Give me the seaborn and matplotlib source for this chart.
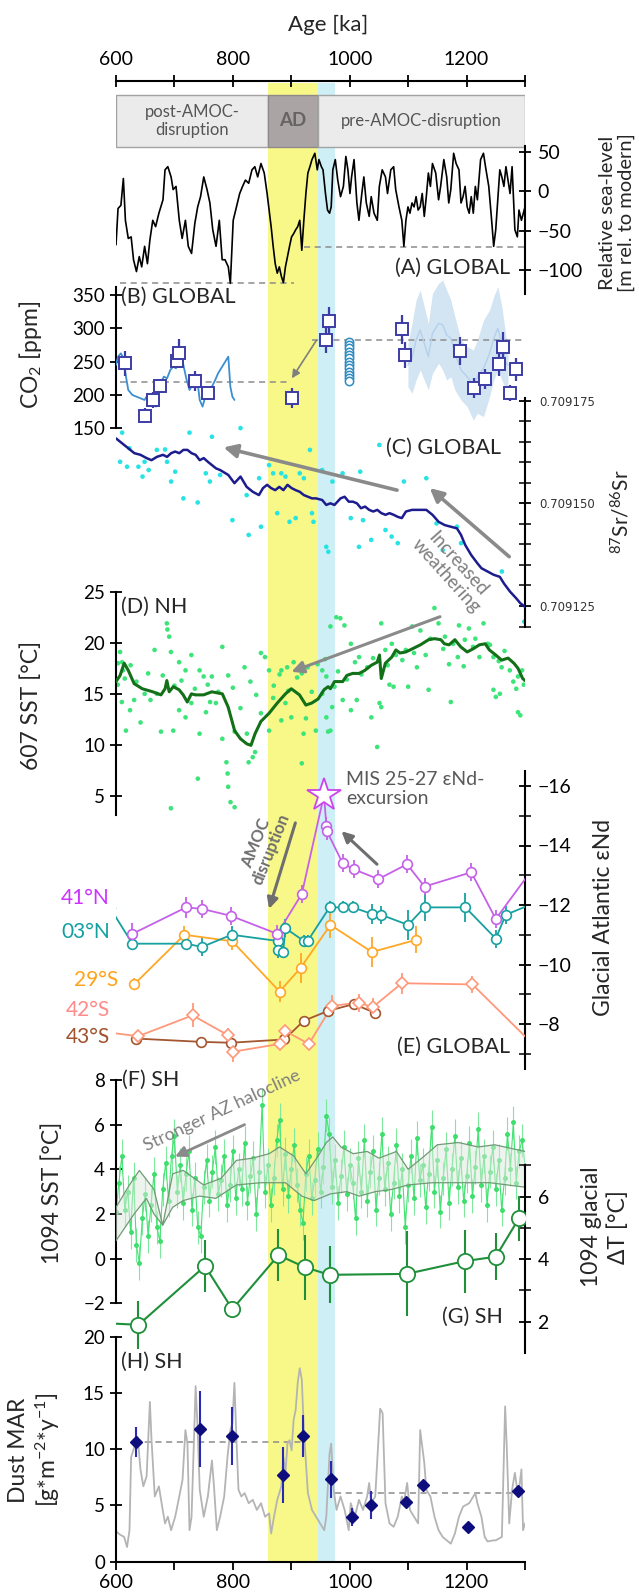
import numpy as np
import matplotlib
matplotlib.use('Agg')
import matplotlib.pyplot as plt
from matplotlib.patches import Rectangle
import seaborn as sns

sns.set_style('ticks')
plt.rcParams['font.family'] = ['Lato', 'DejaVu Sans']
plt.rcParams['mathtext.fontset'] = 'custom'
plt.rcParams['mathtext.rm'] = 'Lato'
plt.rcParams['mathtext.it'] = 'Lato:italic'
plt.rcParams['mathtext.bf'] = 'Lato:bold'

# ---------------- data ----------------
# intervals [ka]
ad_span = (860, 946)
mis_span = (946, 974)

# (A) sea level [m]
sl_ka = [600, 603.5, 608.4, 612.6, 616.1, 621, 625.9, 630, 635, 639.8,
         644, 649, 653.8, 658, 662.9, 667.8, 673.4, 680.4, 683.9, 688.7,
         694.3, 697.8, 702.7, 708.3, 713.2, 718.8, 723.7, 729.3, 734.9, 739.8,
         744.7, 750.2, 755.8, 760.7, 765.6, 771.2, 776.8, 781.7, 786.6, 792.2,
         795.7, 800.6, 806.2, 811.7, 816.6, 821.5, 827.1, 832.7, 837.6, 842.5,
         848.1, 853.7, 858.6, 862.1, 865.5, 869, 872.5, 876, 879.5, 883,
         886.5, 890, 893.5, 897, 900.5, 904, 907.5, 911, 914.5, 918,
         921.5, 925, 928.4, 931.9, 935.4, 940.3, 944.5, 947.3, 951.5, 954.3,
         958.5, 962, 965.5, 968.3, 971.1, 975.3, 979.5, 984.3, 989.2, 993.4,
         996.9, 1000.4, 1003.2, 1007.4, 1012.3, 1015.8, 1020.7, 1024.2, 1028.4, 1033.3,
         1036.8, 1041.6, 1047.2, 1050.7, 1055.6, 1061.2, 1064.7, 1070.3, 1075.2, 1078.7,
         1084.3, 1089.2, 1092.7, 1096.2, 1099.7, 1103.1, 1106.6, 1110.1, 1113.6, 1117.1,
         1120.6, 1124.1, 1127.6, 1131.1, 1134.6, 1138.1, 1141.6, 1147.2, 1152.1, 1155.6,
         1161.1, 1166, 1169.5, 1173, 1177.9, 1182.1, 1187, 1190.5, 1194, 1197.5,
         1201, 1204.5, 1208, 1211.5, 1215, 1218.5, 1224, 1228.9, 1232.4, 1238,
         1242.9, 1246.4, 1249.9, 1253.4, 1256.9, 1260.4, 1263.9, 1267.4, 1270.9, 1274.4,
         1277.9, 1282.7, 1286.9, 1289.7, 1293.9, 1300]
sl_m = [-68, -22, -18, 16, -37, -60, -58, -87, -102, -83,
        -96, -70, -92, -62, -37, -45, -28, -11, 27, 31,
        18, 2, 6, -37, -60, -37, -70, -79, -41, -20,
        -7, 18, 2, -15, -49, -70, -37, -87, -87, -96,
        -117, -37, -20, -3, 6, 14, 10, 27, 31, 18,
        35, 23, -3, -24, -45, -70, -92, -104, -96, -108,
        -116, -96, -83, -70, -58, -54, -49, -45, -37, -75,
        -37, -3, 23, 31, 40, 48, 27, 40, 31, 27,
        -3, -24, -28, -20, 27, 40, 14, -7, 6, 44,
        27, -3, 18, 40, -15, -37, -3, 18, -15, -32,
        -7, -28, -37, 6, 27, 18, -3, 27, 31, 2,
        -20, -37, -70, -37, -20, -28, -15, -20, -7, -24,
        -20, -3, -32, -7, 23, 6, 35, 23, -11, 6,
        40, 18, -15, 2, 48, 35, 27, -15, -7, 6,
        -20, -28, -7, -28, 6, -11, 40, 48, 31, 6,
        -37, -70, -49, -11, 27, 18, 6, 31, 14, -3,
        31, -49, -58, -24, -37, -20]
sl_post_level, sl_post_span = -116, (607, 904)
sl_pre_level, sl_pre_span = -71, (921, 1300)

# (B) CO2 [ppm]
co2_ice_ka = [600, 603.5, 608.4, 612.6, 616.1, 621, 628, 635, 641.9, 648.9,
              653.8, 659.4, 665, 668.5, 672, 676.9, 681.8, 687.4, 692.9, 697.8,
              702.7, 708.3, 711.8, 715.3, 720.9, 725.8, 729.3, 734.9, 739.8, 743.3,
              748.1, 753.7, 758.6, 764.2, 769.8, 774.7, 781.7, 788.7, 792.2, 795.7,
              799.2, 802.7]
co2_ice = [245, 257.5, 262.5, 255, 232.5, 207.5, 200, 197.5, 195, 192.5,
           200, 190, 195, 182.5, 207.5, 217.5, 227.5, 225, 237.5, 242.5,
           240, 252.5, 257.5, 245, 222.5, 207.5, 212.5, 222.5, 217.5, 192.5,
           182.5, 200, 202.5, 212.5, 222.5, 232.5, 242.5, 252.5, 257.5, 212.5,
           197.5, 192.5]
co2_boron_ka = [616, 650.3, 664, 675, 705, 707, 735, 757, 902, 960,
                964, 1089, 1095, 1188, 1213, 1232, 1255, 1262, 1274, 1285]
co2_boron = [247.5, 169, 192.5, 213.5, 251.5, 262.5, 221.5, 202.5, 195, 282.5,
             311.5, 298.5, 260, 266.5, 211, 224, 246, 272.5, 203.5, 238.5]
co2_boron_err = [19, 11, 12.5, 11, 9, 22, 15, 10, 15, 19,
                 21, 22, 20, 21, 15, 15, 17, 22, 12, 17]
co2_stack_ka = 998
co2_stack = [280, 275, 270, 265, 260, 255, 250, 245, 240, 235, 230, 225, 221]
blue_ice_ka = [1099.6, 1106.6, 1113.6, 1120.6, 1127.6, 1134.6, 1141.6, 1152.1, 1159.1, 1166,
               1173, 1180, 1190.5, 1201, 1211.5, 1218.5, 1229, 1239.4, 1246.4, 1253.4,
               1260.4, 1267.4, 1270.9]
blue_ice_hi = [277.5, 307.5, 342.5, 357.5, 332.5, 307.5, 352.5, 367.5, 372.5, 357.5,
               342.5, 317.5, 282.5, 272.5, 267.5, 282.5, 312.5, 327.5, 347.5, 362.5,
               332.5, 287.5, 272.5]
blue_ice_lo = [212.5, 202.5, 222.5, 237.5, 222.5, 207.5, 232.5, 247.5, 237.5, 222.5,
               227.5, 207.5, 192.5, 182.5, 162.5, 172.5, 167.5, 197.5, 222.5, 237.5,
               222.5, 207.5, 217.5]
co2_post_level, co2_post_span = 220, (607, 900)
co2_pre_level, co2_pre_span = 282, (935, 1295)

# (C) 87Sr/86Sr
sr_ka = [600, 610.5, 621, 631.4, 641.9, 652.4, 660.8, 669.9, 680.4, 687.4,
         694.3, 701.3, 708.3, 715.3, 722.3, 729.3, 736.3, 743.3, 750.2, 757.2,
         764.2, 771.2, 778.2, 792.2, 802.7, 813.1, 823.6, 834.1, 844.6, 851.6,
         858.6, 865.5, 872.5, 879.5, 886.5, 893.5, 900.5, 907.5, 914.5, 921.5,
         928.4, 935.4, 942.4, 952.9, 959.9, 966.9, 973.9, 984.3, 991.3, 998.3,
         1005.3, 1012.3, 1019.3, 1026.3, 1033.3, 1040.3, 1047.2, 1054.2, 1061.2, 1068.2,
         1075.2, 1082.2, 1089.2, 1096.2, 1106.6, 1117.1, 1131.1, 1141.6, 1152.1, 1162.5,
         1173, 1183.5, 1190.5, 1197.5, 1208, 1218.5, 1225.4, 1235.9, 1246.4, 1256.9,
         1263.9, 1274.4, 1284.8, 1291.8, 1300]
sr_fit = [0.7091658, 0.7091646, 0.7091634, 0.7091622, 0.7091618, 0.7091610, 0.7091605, 0.7091613, 0.7091618, 0.7091613,
          0.7091622, 0.7091626, 0.7091622, 0.7091630, 0.7091630, 0.7091622, 0.7091618, 0.7091605, 0.7091610, 0.7091601,
          0.7091593, 0.7091585, 0.7091581, 0.7091569, 0.7091549, 0.7091565, 0.7091540, 0.7091528, 0.7091520, 0.7091537,
          0.7091545, 0.7091537, 0.7091532, 0.7091540, 0.7091532, 0.7091545, 0.7091537, 0.7091532, 0.7091528, 0.7091520,
          0.7091516, 0.7091512, 0.7091512, 0.7091508, 0.7091496, 0.7091500, 0.7091496, 0.7091512, 0.7091516, 0.7091504,
          0.7091504, 0.7091500, 0.7091488, 0.7091492, 0.7091484, 0.7091480, 0.7091484, 0.7091476, 0.7091472, 0.7091476,
          0.7091472, 0.7091467, 0.7091464, 0.7091480, 0.7091484, 0.7091484, 0.7091484, 0.7091472, 0.7091455, 0.7091447,
          0.7091443, 0.7091439, 0.7091423, 0.7091399, 0.7091374, 0.7091354, 0.7091342, 0.7091334, 0.7091326, 0.7091321,
          0.7091305, 0.7091285, 0.7091269, 0.7091257, 0.7091248]
sr_pts_ka = [610.5, 607, 618.9, 623, 638.4, 645.4, 648.9, 655.9, 669.9, 683.9,
             687.4, 694.3, 701.3, 715.3, 725.8, 739.8, 753.7, 760.7, 764.2, 778.2,
             799.2, 813.1, 823.6, 827.1, 848.1, 845, 862, 869, 876, 883,
             890, 897, 907.5, 914.5, 921.5, 931.9, 935.4, 938, 952.9, 959.9,
             963.4, 970.4, 987.8, 1001.8, 1015.8, 1018, 1022.8, 1036.8, 1050.7, 1061.2,
             1071.7, 1082.2, 1092.7, 1131.1, 1148.6, 1159.1, 1183.5, 1190.5, 1260.4, 1298.8]
sr_pts = [0.7091672, 0.7091601, 0.7091589, 0.7091634, 0.7091589, 0.7091565, 0.7091601, 0.7091581, 0.7091630, 0.7091631,
          0.7091601, 0.7091553, 0.7091577, 0.7091512, 0.7091672, 0.7091502, 0.7091573, 0.7091553, 0.7091662, 0.7091569,
          0.7091459, 0.7091683, 0.7091520, 0.7091423, 0.7091443, 0.7091561, 0.7091593, 0.7091573, 0.7091476, 0.7091573,
          0.7091565, 0.7091455, 0.7091464, 0.7091573, 0.7091561, 0.7091630, 0.7091476, 0.7091455, 0.7091581, 0.7091394,
          0.7091382, 0.7091553, 0.7091573, 0.7091464, 0.7091394, 0.7091577, 0.7091459, 0.7091411, 0.7091642, 0.7091435,
          0.7091419, 0.7091403, 0.7091553, 0.7091561, 0.7091451, 0.7091386, 0.7091443, 0.7091403, 0.7091334, 0.7091212]

# (D) 607 SST [degC]
d_ka = [600, 607, 614, 621, 631, 645, 663, 677, 684, 687,
        691, 698, 708, 715, 722, 729, 736, 750, 764, 782,
        792, 803, 813, 824, 831, 838, 848, 862, 876, 890,
        900, 914, 925, 935, 946, 956, 963, 967, 974, 988,
        995, 1005, 1016, 1026, 1037, 1047, 1051, 1054, 1061, 1072,
        1079, 1086, 1096, 1107, 1121, 1135, 1145, 1156, 1162, 1170,
        1180, 1190, 1201, 1211, 1222, 1232, 1239, 1250, 1260, 1271,
        1281, 1288, 1296, 1300]
d_sst = [16.2, 16.8, 18.0, 17.3, 16.0, 15.5, 15.2, 14.9, 15.5, 16.3,
         15.2, 15.7, 15.4, 14.9, 14.2, 15.0, 14.9, 14.9, 15.2, 15.0,
         13.7, 11.4, 10.6, 10.1, 9.96, 11.1, 12.3, 13.1, 14.1, 15.0,
         15.5, 14.9, 13.9, 14.1, 14.5, 15.4, 15.7, 15.5, 16.2, 16.2,
         16.8, 17.0, 17.0, 17.3, 17.8, 18.1, 18.8, 16.5, 18.0, 18.6,
         19.3, 19.0, 19.1, 19.4, 19.8, 20.3, 20.4, 20.3, 19.9, 19.8,
         20.3, 19.6, 19.1, 19.4, 19.8, 19.9, 19.3, 18.8, 18.3, 18.5,
         18.0, 17.5, 16.5, 16.3]
d_pts_ka = [607, 610.5, 603.5, 612, 666, 687, 688, 691, 694, 708,
            719, 729, 743, 750, 764, 782, 792, 820, 848, 855,
            862, 883, 893, 904, 918, 928, 953, 960, 967, 977,
            984, 991, 1002, 1009, 1016, 1030, 1054, 1061, 1072, 1079,
            1096, 1107, 1121, 1138, 1145, 1152, 1163, 1177, 1187, 1197,
            1204, 1211, 1222, 1229, 1236, 1246, 1260, 1274, 1288, 1295,
            603, 610, 617, 624, 631, 642, 649, 659, 670, 677,
            694, 698, 708, 719, 729, 740, 743, 754, 761, 771,
            782, 789, 791, 792, 796, 803, 803, 813, 824, 827,
            834, 838, 848, 862, 869, 883, 890, 900, 918, 921,
            925, 942, 953, 960, 963, 967, 970, 974, 988, 1002,
            1012, 1037, 1047, 1051, 1054, 1068, 1075, 1100, 1135, 1173,
            1246, 1250, 1257, 1285, 1288, 1292,
            615, 625, 635, 655, 680, 700, 712, 735, 757, 775,
            800, 830, 840, 870, 880, 895, 910, 935, 945, 958,
            980, 995, 1020, 1040, 1065, 1090, 1110, 1115, 1130, 1160,
            1170, 1185, 1195, 1215, 1240, 1255, 1265, 1280, 1298]
d_pts = [19.1, 18.1, 18.0, 17.3, 19.3, 21.9, 21.3, 20.6, 19.1, 18.1,
         17.3, 18.8, 17.3, 16.7, 16.7, 19.6, 16.8, 17.6, 19.0, 18.6,
         17.3, 17.3, 17.6, 18.1, 17.0, 17.6, 17.3, 16.7, 21.6, 22.5,
         22.4, 21.7, 19.9, 18.1, 18.6, 17.6, 21.9, 19.3, 19.9, 18.8,
         19.3, 21.6, 21.2, 20.4, 23.4, 21.9, 20.6, 19.9, 21.7, 20.3,
         21.4, 19.6, 18.6, 21.9, 19.9, 18.6, 17.6, 17.3, 16.7, 17.3,
         15.9, 14.2, 11.4, 13.4, 14.4, 12.2, 15.0, 14.4, 15.0, 11.3,
         3.8, 11.4, 13.4, 12.7, 14.1, 6.7, 11.1, 13.2, 14.2, 14.1,
         10.6, 8.3, 7.2, 5.9, 4.4, 3.9, 11.3, 13.6, 11.1, 8.3,
         8.8, 9.3, 13.1, 11.4, 14.6, 12.4, 14.1, 12.7, 8.2, 11.1,
         12.6, 11.4, 15.0, 12.7, 11.3, 11.4, 13.7, 15.7, 14.4, 13.4,
         14.4, 12.7, 9.8, 14.1, 13.7, 15.9, 15.7, 15.7, 15.4, 14.2,
         15.4, 14.7, 15.0, 15.5, 13.2, 12.9,
         16.5, 17.8, 16.2, 17.0, 16.8, 15.8, 16.3, 15.5, 15.9, 15.2,
         15.6, 16.2, 14.9, 15.8, 16.9, 15.3, 16.6, 15.2, 17.9, 18.4,
         17.2, 16.4, 16.9, 18.5, 17.8, 18.3, 19.0, 17.6, 18.8, 19.4,
         17.9, 18.6, 17.7, 20.4, 19.8, 18.2, 19.2, 16.2, 15.9]

# (E) glacial Atlantic eNd
nd41_ka = [628, 720, 747, 796, 876, 918, 956, 960, 961, 988, 1007, 1049, 1098, 1128, 1208, 1250, 1320]
nd41 = [-11.03, -11.92, -11.87, -11.64, -11.03, -12.37, -15.7, -14.67, -14.48, -13.4, -13.2, -12.87, -13.37, -12.62, -13.1, -11.53, -13.4]
nd41_err = [0.35, 0.35, 0.3, 0.3, 0.3, 0.3, 0, 0.3, 0.3, 0.3, 0.3, 0.3, 0.3, 0.3, 0.3, 0.3, 0]
nd41_star = 6
nd03_ka = [590, 628, 720, 747, 798, 877, 877.5, 886, 890, 921.5, 928, 965.5, 988, 1005, 1038, 1054, 1100, 1128, 1198, 1250, 1267, 1320]
nd03 = [-11.9, -10.7, -10.7, -10.59, -11.0, -10.79, -10.48, -10.42, -11.22, -10.79, -10.79, -11.92, -11.92, -11.92, -11.7, -11.67, -11.33, -11.92, -11.92, -10.87, -11.67, -12.1]
nd03_err = [0, 0, 0, 0.3, 0.3, 0.25, 0.25, 0.2, 0.3, 0.2, 0.2, 0.2, 0.2, 0.2, 0.35, 0.3, 0.5, 0.45, 0.5, 0.3, 0.3, 0]
nd29_ka = [631, 717, 799, 880, 916, 967, 1038, 1114]
nd29 = [-9.33, -11.0, -10.78, -9.09, -9.89, -11.33, -10.42, -10.83]
nd29_err = [0.2, 0.3, 0.3, 0.35, 0.5, 0.45, 0.5, 0.45]
nd42_ka = [585, 638, 731, 792, 801, 880, 890, 930, 970, 1016, 1039, 1089, 1210, 1320]
nd42 = [-7.72, -7.59, -8.29, -7.62, -7.07, -7.33, -7.76, -7.33, -8.61, -8.72, -8.56, -9.37, -9.33, -7.2]
nd42_err = [0, 0.2, 0.4, 0.25, 0.35, 0.2, 0.2, 0.2, 0.35, 0.3, 0.3, 0.35, 0.3, 0]
nd43_ka = [635, 745, 796, 888, 921.5, 963, 1007, 1044]
nd43 = [-7.51, -7.4, -7.37, -7.48, -8.11, -8.44, -8.67, -8.37]
nd43_err = [0.15, 0.15, 0.15, 0.15, 0.15, 0.15, 0.15, 0.15]

# (F) 1094 SST [degC]
sst1094_ka = np.arange(600, 1301, 5)
sst1094 = [2.1, 3.4, 4.6, 2.2, 3.0, 1.2, 3.6, 0.6, -0.2, 1.8, 2.9, 1.0, 2.4, 3.8, 1.4, 0.8, 3.1, 4.3, 2.6, 4.6, 5.5,
           3.0, 4.2, 2.5, 3.8, 4.8, 2.2, 3.6, 1.4, 1.0, 3.2, 4.4, 2.6, 3.9, 5.0, 2.9, 3.5, 4.6, 2.4, 3.3, 4.8,
           2.7, 4.0, 3.1, 5.2, 2.5, 3.7, 4.5, 2.0, 3.9, 6.9, 3.0, 4.2, 2.4, 3.6, 5.3, 6.2, 3.1, 4.7, 2.8, 4.0,
           5.1, 3.3, 2.2, 1.6, 3.8, 4.6, 2.7, 3.5, 4.9, 3.0, 4.1, 6.4, 5.6, 3.2, 4.4, 2.5, 3.7, 5.0, 2.9, 4.2,
           3.4, 1.8, 4.5, 3.0, 5.3, 2.6, 3.9, 4.8, 2.2, 3.6, 5.6, 3.1, 4.3, 2.0, 3.4, 5.1, 2.8, 4.0, 1.4, 3.3,
           4.6, 2.7, 5.4, 3.5, 4.2, 2.3, 3.8, 5.9, 3.0, 4.4, 2.1, 3.6, 4.9, 2.5, 4.0, 5.5, 3.2, 4.5, 2.6, 3.7,
           5.2, 2.8, 4.1, 5.8, 3.3, 4.6, 2.4, 3.9, 5.0, 3.1, 4.4, 2.2, 3.6, 5.6, 4.0, 6.1, 3.4, 4.8, 5.3, 4.2]
sst1094_err = 0.75
band_up_ka = [600, 623, 640, 665, 680, 697, 715, 750, 780, 806, 834, 862, 880, 904, 925, 946,
              960, 971, 985, 1006, 1030, 1050, 1080, 1100, 1128, 1150, 1186, 1220, 1248, 1300]
band_up = [2.3, 3.3, 3.95, 3.1, 1.5, 3.8, 3.95, 3.3, 3.6, 4.4, 4.5, 4.7, 5.0, 4.6, 3.8, 4.6,
           5.2, 5.45, 5.0, 4.7, 4.8, 4.5, 4.8, 4.0, 4.6, 5.1, 5.2, 5.0, 5.1, 4.8]
band_lo_ka = [600, 631, 652, 665, 680, 697, 715, 743, 771, 806, 848, 890, 918, 939, 967, 995,
              1016, 1044, 1072, 1100, 1141, 1190, 1240, 1300]
band_lo = [0.8, 2.0, 2.7, 2.0, 1.5, 2.3, 2.6, 2.8, 2.7, 3.3, 3.4, 3.4, 2.8, 2.6, 2.9, 3.0,
           2.8, 3.0, 3.1, 3.3, 3.4, 3.4, 3.4, 3.2]

# (G) 1094 glacial dT [degC]
g_ka = [585, 638.4, 752.3, 799.2, 878.1, 923.5, 965.5, 1097.6, 1197.5, 1250, 1289.7]
g_dt = [1.95, 1.9, 3.78, 2.4, 4.13, 3.74, 3.5, 3.53, 3.94, 4.08, 5.31]
g_err = [0, 0.77, 0.83, 0, 0.83, 1.04, 0.91, 1.36, 1.01, 0.75, 0.72]

# (H) dust MAR
dust_ka = [600, 607, 614, 618.9, 623.1, 625.9, 631.4, 637, 641.9, 646.8,
           652.4, 658, 660.8, 666.4, 673.4, 679, 683.9, 688.7, 694.3, 701.3,
           708.3, 713.9, 718.8, 722.3, 725.8, 729.3, 736.3, 739.8, 743.3, 750.2,
           757.2, 764.2, 767.7, 772.6, 778.2, 785.2, 790.8, 795.7, 799.2, 802.7,
           806.2, 809.6, 814.5, 820.1, 827.1, 834.1, 841.1, 848.1, 855.1, 862.1,
           865.5, 870.4, 876, 883, 886.5, 890, 893.5, 897, 900.5, 904,
           907.5, 911, 914.5, 918, 921.5, 928.4, 935.4, 942.4, 949.4, 956.4,
           959.9, 965.5, 968.3, 972.5, 977.4, 984.3, 991.3, 998.3, 1001.8, 1008.8,
           1015.8, 1022.8, 1029.8, 1033.3, 1036.8, 1043.7, 1052.1, 1056.3, 1061.2, 1068.2,
           1075.2, 1082.2, 1089.2, 1092.7, 1098.3, 1103.1, 1110.1, 1117.1, 1120.6, 1127.6,
           1131.1, 1138.1, 1145.1, 1152.1, 1159.1, 1166, 1173, 1180, 1187, 1194,
           1204.5, 1211.5, 1215, 1218.5, 1225.4, 1231, 1235.9, 1246.4, 1249.9, 1260.4,
           1266, 1268.8, 1273, 1277.9, 1282.7, 1288.3, 1293.9, 1296.7, 1300]
dust_mar = [2.7, 2.4, 2.2, 1.3, 2.8, 9.3, 10.2, 11.1, 8.2, 6.7,
            7.6, 14.2, 10.8, 5.8, 6.7, 4.9, 3.4, 4.0, 2.8, 4.0,
            5.8, 7.3, 11.7, 10.5, 2.8, 4.0, 15.6, 11.7, 6.4, 4.0,
            5.8, 9.0, 6.7, 2.8, 4.0, 5.8, 9.3, 11.7, 12.3, 15.9,
            10.8, 6.4, 5.8, 6.1, 5.2, 5.5, 4.6, 5.2, 4.0, 4.3,
            2.5, 4.0, 5.5, 6.7, 9.3, 7.9, 10.5, 10.8, 9.9, 12.6,
            13.5, 15.9, 17.2, 16.2, 11.7, 6.1, 4.6, 4.0, 3.4, 2.8,
            4.0, 9.6, 10.5, 6.4, 4.6, 5.8, 4.6, 2.8, 5.2, 4.0,
            5.5, 4.6, 5.8, 7.0, 5.2, 5.8, 13.6, 13.2, 5.2, 3.4,
            3.1, 4.0, 5.8, 5.2, 7.0, 4.6, 4.0, 3.4, 11.7, 8.8,
            6.4, 5.8, 4.0, 2.8, 2.2, 1.9, 1.6, 2.5, 4.0, 4.9,
            5.2, 5.8, 6.1, 5.2, 4.0, 2.2, 1.8, 1.9, 1.9, 2.2,
            13.8, 10.2, 3.4, 6.4, 7.9, 5.8, 8.2, 2.8, 3.4]
dust_avg_ka = [633.5, 743.3, 797.8, 885.8, 920.8, 968.3, 1003.2, 1036.8, 1096.9, 1125.5, 1203.1, 1288.3]
dust_avg = [10.67, 11.8, 11.18, 7.71, 11.18, 7.33, 3.95, 5.04, 5.28, 6.82, 3.12, 6.32]
dust_avg_err = [1.33, 3.4, 2.6, 2.5, 1.85, 1.63, 0.8, 1.26, 0.4, 0.3, 0.3, 0.4]
dust_post_level, dust_post_span = 10.67, (631, 918)
dust_pre_level, dust_pre_span = 6.14, (974, 1295)

age_ticks = list(range(600, 1301, 100))
age_labels = ['600', '', '800', '', '1000', '', '1200', '']

# ---------------- layout helpers ----------------
W, H = 639, 1592
X0, X1 = 116, 525
fig = plt.figure(figsize=(W / 100, H / 100), dpi=100)


def ftext(x, y, s, **kw):
    return fig.text(x / W, 1 - y / H, s, **kw)


def panel(ya, va, yb, vb):
    ax = fig.add_axes([X0 / W, 0, (X1 - X0) / W, 1])
    ax.set_xlim(600, 1300)
    k = (vb - va) / (yb - ya)
    ax.set_ylim(va + (H - ya) * k, va - ya * k)
    ax.patch.set_alpha(0)
    for s in ax.spines.values():
        s.set_visible(False)
    ax.tick_params(axis='x', bottom=False, top=False, labelbottom=False, labeltop=False)
    return ax


def yspine(ax, side, lo, hi, ticks, labels=None, size=13.5, pad=4, minor=None):
    sp = ax.spines[side]
    sp.set_visible(True)
    sp.set_bounds(lo, hi)
    sp.set_linewidth(1.5)
    sp.set_color('black')
    if side == 'right':
        ax.yaxis.tick_right()
    else:
        ax.yaxis.tick_left()
    ax.set_yticks(ticks)
    if labels is not None:
        ax.set_yticklabels(labels)
    ax.tick_params(axis='y', which='major', direction='inout', length=8, width=1.3,
                   labelsize=size, pad=pad, colors='black')
    if minor is not None:
        ax.set_yticks(minor, minor=True)
        ax.tick_params(axis='y', which='minor', direction='inout', length=8, width=1.3)


def arrow(ax, start, end, color='#8a8a8a', lw=2.2, ms=18):
    ax.annotate('', xy=end, xytext=start, annotation_clip=False,
                arrowprops=dict(arrowstyle='-|>', color=color, lw=lw, mutation_scale=ms,
                                shrinkA=0, shrinkB=0))


def hline(ax, level, span):
    ax.plot(span, [level, level], ls=(0, (4, 3)), color='#8c8c8c', lw=1.1, zorder=1)


# ---------------- frame: bands, boxes, age axis ----------------
ax0 = fig.add_axes([X0 / W, 0, (X1 - X0) / W, 1])
ax0.set_xlim(600, 1300)
ax0.set_ylim(H, 0)
ax0.patch.set_alpha(0)
for s in ['left', 'right', 'bottom']:
    ax0.spines[s].set_visible(False)
ax0.spines['top'].set_position(('data', 81))
ax0.spines['top'].set_linewidth(1.5)
ax0.spines['top'].set_color('black')
ax0.set_yticks([])
ax0.xaxis.set_ticks_position('top')
ax0.set_xticks(age_ticks)
ax0.set_xticklabels(age_labels)
ax0.tick_params(axis='x', direction='inout', length=9, width=1.3, labelsize=14, pad=5, colors='black')

band_top, band_bot = 83, 1561.7
ax0.add_patch(Rectangle((ad_span[0], band_top), ad_span[1] - ad_span[0], band_bot - band_top,
                        fc='#f8f889', ec='none', zorder=0))
ax0.add_patch(Rectangle((mis_span[0], band_top), mis_span[1] - mis_span[0], band_bot - band_top,
                        fc='#cdeff5', ec='none', zorder=0))
box_top, box_h = 95, 52
ax0.add_patch(Rectangle((600, box_top), ad_span[0] - 600, box_h, fc='#ebebeb', ec='#a3a3a3', lw=1, zorder=2))
ax0.add_patch(Rectangle((ad_span[0], box_top), ad_span[1] - ad_span[0], box_h, fc='#aaa5a4', ec='#8e8a89', lw=1, zorder=2))
ax0.add_patch(Rectangle((ad_span[1], box_top), 1300 - ad_span[1], box_h, fc='#ebebeb', ec='#a3a3a3', lw=1, zorder=2))
ax0.text((600 + ad_span[0]) / 2, box_top + box_h / 2, 'post-AMOC-\ndisruption', ha='center', va='center',
         fontsize=12, color='#555555', linespacing=1.15, zorder=3)
ax0.text(sum(ad_span) / 2, box_top + box_h / 2, 'AD', ha='center', va='center',
         fontsize=13.5, color='#686363', fontweight='bold', zorder=3)
ax0.text((ad_span[1] + 1300) / 2, box_top + box_h / 2, 'pre-AMOC-disruption', ha='center', va='center',
         fontsize=12, color='#555555', zorder=3)
ftext(328, 25, 'Age [ka]', ha='center', va='center', fontsize=16)

# ---------------- (A) sea level ----------------
axA = panel(151.7, 50, 270, -100)
sns.lineplot(x=sl_ka, y=sl_m, ax=axA, color='black', linewidth=1.2, estimator=None, sort=False)
hline(axA, sl_post_level, sl_post_span)
hline(axA, sl_pre_level, sl_pre_span)
yspine(axA, 'right', -130, 57, [50, 0, -50, -100], size=14, pad=5)
ftext(510, 268, '(A) GLOBAL', ha='right', va='center', fontsize=15.5)
ftext(617, 213, 'Relative sea-level\n[m rel. to modern]', rotation=90, ha='center', va='center',
      fontsize=14.5, linespacing=1.05)

# ---------------- (B) CO2 ----------------
axB = panel(295, 350, 428.3, 150)
axB.fill_between(blue_ice_ka, blue_ice_lo, blue_ice_hi, color='#d3e4f3', lw=0, zorder=1)
sns.lineplot(x=blue_ice_ka, y=(np.array(blue_ice_lo) + np.array(blue_ice_hi)) / 2, ax=axB,
             color='#b4d1ec', linewidth=1.0, estimator=None, sort=False, zorder=2)
sns.lineplot(x=co2_ice_ka, y=co2_ice, ax=axB, color='#3b8fd0', linewidth=1.3, estimator=None, sort=False, zorder=3)
axB.plot([co2_stack_ka] * len(co2_stack), co2_stack, 'o', ms=6, mfc='white', mec='#2f8cc0', mew=1.1, zorder=4)
axB.errorbar(co2_boron_ka, co2_boron, yerr=co2_boron_err, fmt='s', ms=8, mfc='white', mec='#3c3ca6',
             ecolor='#3c3ca6', elinewidth=1.6, mew=1.4, capsize=0, zorder=5)
hline(axB, co2_post_level, co2_post_span)
hline(axB, co2_pre_level, co2_pre_span)
arrow(axB, (943, 282), (901, 225), color='#7f7f7f', lw=1.2, ms=12)
yspine(axB, 'left', 150, 362, [350, 300, 250, 200, 150])
ftext(121, 297, '(B) GLOBAL', ha='left', va='center', fontsize=15.5)
ftext(31, 355, 'CO$_2$ [ppm]', rotation=90, ha='center', va='center', fontsize=16.5)

# ---------------- (C) Sr ----------------
axC = panel(400.6, 0.709175, 606, 0.709125)
sns.scatterplot(x=sr_pts_ka, y=sr_pts, ax=axC, s=11, color='#27e3e3', edgecolor='none', linewidth=0, zorder=2)
sns.lineplot(x=sr_ka, y=sr_fit, ax=axC, color='#1c1c8e', linewidth=1.8, estimator=None, sort=False, zorder=3)
arrow(axC, (1081, 0.7091532), (784, 0.7091636), lw=2.6, ms=20)
arrow(axC, (1273, 0.709137), (1137, 0.7091537), lw=2.6, ms=20)
yspine(axC, 'right', 0.70912, 0.7091756, [0.709175, 0.70915, 0.709125],
       labels=['0.709175', '0.709150', '0.709125'], size=8.5, pad=6,
       minor=[0.70912, 0.70913, 0.709135, 0.70914, 0.709145, 0.709155, 0.70916, 0.709165, 0.70917])
for lbl in axC.get_yticklabels():
    lbl.set_family('DejaVu Sans')
    lbl.set_color('#333333')
ftext(386, 448, '(C) GLOBAL', ha='left', va='center', fontsize=15.5)
ftext(621, 512, '$^{87}$Sr/$^{86}$Sr', rotation=90, ha='center', va='center', fontsize=15)
ftext(452, 570, 'Increased\nweathering', rotation=-48, ha='center', va='center', fontsize=13.5,
      color='#7f7f7f', linespacing=1.0, rotation_mode='anchor')

# ---------------- (D) 607 SST ----------------
axD = panel(591.7, 25, 796, 5)
sns.scatterplot(x=d_pts_ka, y=d_pts, ax=axD, s=11, color='#3de47a', edgecolor='none', linewidth=0, zorder=2)
sns.lineplot(x=d_ka, y=d_sst, ax=axD, color='#137019', linewidth=2.2, estimator=None, sort=False, zorder=3)
arrow(axD, (1154.5, 22.55), (900.2, 17.16), lw=2.2, ms=18)
yspine(axD, 'left', 3.1, 25, [25, 20, 15, 10, 5])
ftext(121, 607, '(D) NH', ha='left', va='center', fontsize=15.5)
ftext(31, 705, '607 SST [°C]', rotation=90, ha='center', va='center', fontsize=16.5)

# ---------------- (E) eNd ----------------
axE = panel(786, -16, 1024, -8)
series = [
    (nd43_ka, nd43, nd43_err, '#a3562f', 'o'),
    (nd42_ka, nd42, nd42_err, '#ff987a', 'D'),
    (nd29_ka, nd29, nd29_err, '#ffa726', 'o'),
    (nd03_ka, nd03, nd03_err, '#17a0a0', 'o'),
]
for ka, v, e, c, m in series:
    axE.errorbar(ka, v, yerr=e, fmt='-', color=c, lw=1.3, elinewidth=1.3, capsize=0, zorder=3)
    axE.plot(ka, v, ls='none', marker=m, ms=7 if m == 'o' else 6.5, mfc='white', mec=c, mew=1.2, zorder=4)
axE.errorbar(nd41_ka, nd41, yerr=nd41_err, fmt='-', color='#c561e8', lw=1.3, elinewidth=1.3, capsize=0, zorder=3)
ka41 = [k for i, k in enumerate(nd41_ka) if i != nd41_star]
v41 = [k for i, k in enumerate(nd41) if i != nd41_star]
axE.plot(ka41, v41, ls='none', marker='o', ms=7, mfc='white', mec='#c561e8', mew=1.2, zorder=4)
axE.plot(nd41_ka[nd41_star], nd41[nd41_star], marker='*', ms=25, mfc='white', mec='#cc44ee', mew=1.3,
         zorder=5, clip_on=False)
arrow(axE, (907, -14.76), (862, -11.87), color='#6e6e6e', lw=2.2, ms=16)
arrow(axE, (1046.7, -13.37), (985.9, -14.48), color='#6e6e6e', lw=2.2, ms=16)
yspine(axE, 'right', -16.5, -6.5, [-16, -14, -12, -10, -8], size=14, pad=5, minor=[-15, -13, -11, -9, -7])
ftext(397, 1047, '(E) GLOBAL', ha='left', va='center', fontsize=15.5)
ftext(604, 917, 'Glacial Atlantic εNd', rotation=90, ha='center', va='center', fontsize=16.5)
ftext(346, 789, 'MIS 25-27 εNd-\nexcursion', ha='left', va='center', fontsize=14, color='#595959',
      linespacing=1.1)
ftext(264, 846, 'AMOC\ndisruption', rotation=68, ha='center', va='center', fontsize=12,
      color='#6e6e6e', fontweight='bold', linespacing=1.0, rotation_mode='anchor')
for txt, y, c in [('41°N', 898, '#cc33ff'), ('03°N', 932, '#11a0a0'), ('29°S', 980, '#ffa31a'),
                  ('42°S', 1010, '#ff8a8a'), ('43°S', 1037, '#a0522d')]:
    ftext(110 if txt != '29°S' else 118, y, txt, ha='right', va='center', fontsize=15, color=c)

# ---------------- (F) 1094 SST ----------------
axF = panel(1080, 8, 1303.3, -2)
axF.errorbar(sst1094_ka, sst1094, yerr=sst1094_err, fmt='-o', ms=2.5, color='#45e373', mec='#36dd66',
             ecolor='#7ee89c', elinewidth=0.8, lw=0.8, capsize=0, zorder=2)
axF.fill(np.r_[band_up_ka, band_lo_ka[::-1]], np.r_[band_up, band_lo[::-1]], fc='#dde9dd', alpha=0.5,
         ec='none', zorder=3)
axF.plot(band_up_ka, band_up, color='#6f9a74', lw=0.9, zorder=4)
axF.plot(band_lo_ka, band_lo, color='#6f9a74', lw=0.9, zorder=4)
arrow(axF, (820, 6.0), (701, 4.57), lw=2.0, ms=16)
yspine(axF, 'left', -2, 8, [8, 6, 4, 2, 0, -2])
ftext(122, 1080, '(F) SH', ha='left', va='center', fontsize=15.5)
ftext(52, 1193, '1094 SST [°C]', rotation=90, ha='center', va='center', fontsize=16.5)
ftext(222, 1111, 'Stronger AZ halocline', rotation=25, ha='center', va='center', fontsize=13,
      color='#7f7f7f', rotation_mode='anchor')

# ---------------- (G) 1094 glacial dT ----------------
axG = panel(1196.7, 6, 1321.7, 2)
axG.plot(g_ka, g_dt, color='#1f8f3a', lw=1.5, zorder=3)
axG.errorbar(g_ka[1:], g_dt[1:], yerr=g_err[1:], fmt='o', ms=11, mfc='white', mec='#1f8f3a', mew=1.3,
             ecolor='#1f8f3a', elinewidth=1.5, capsize=0, zorder=4)
yspine(axG, 'right', 1.0, 7.0, [6, 4, 2], size=14, pad=5, minor=[7, 5, 3])
ftext(442, 1317, '(G) SH', ha='left', va='center', fontsize=15.5)
ftext(605, 1227, '1094 glacial\nΔT [°C]', rotation=90, ha='center', va='center', fontsize=16.5,
      linespacing=1.25)

# ---------------- (H) dust ----------------
axH = panel(1336.7, 20, 1561.7, 0)
sns.lineplot(x=dust_ka, y=dust_mar, ax=axH, color='#b4b4b4', linewidth=1.3, estimator=None, sort=False, zorder=2)
hline(axH, dust_post_level, dust_post_span)
hline(axH, dust_pre_level, dust_pre_span)
axH.errorbar(dust_avg_ka, dust_avg, yerr=dust_avg_err, fmt='D', ms=6.5, color='#0d0d7d', ecolor='#2a2ab5',
             elinewidth=1.5, capsize=0, zorder=4)
yspine(axH, 'left', 0, 20, [20, 15, 10, 5, 0])
axH.spines['bottom'].set_visible(True)
axH.spines['bottom'].set_position(('data', 0))
axH.spines['bottom'].set_bounds(600, 1300)
axH.spines['bottom'].set_linewidth(1.5)
axH.spines['bottom'].set_color('black')
axH.set_xticks(age_ticks)
axH.set_xticklabels(age_labels)
axH.tick_params(axis='x', bottom=True, labelbottom=True, direction='out', length=6, width=1.3,
                labelsize=14, pad=3, colors='black')
ftext(121, 1362, '(H) SH', ha='left', va='center', fontsize=15.5)
ftext(35, 1450, 'Dust MAR\n[g*m$^{-2}$*y$^{-1}$]', rotation=90, ha='center', va='center', fontsize=16.5,
      linespacing=1.2)

fig.savefig('out.png', dpi=100, facecolor='white')
